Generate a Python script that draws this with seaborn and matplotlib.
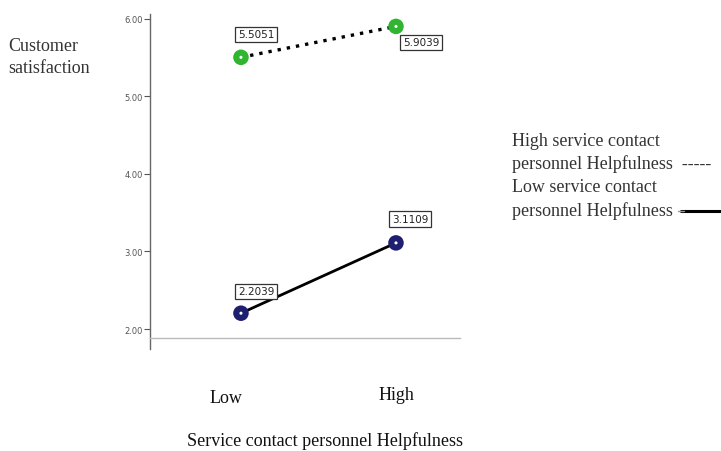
import pandas as pd
import numpy as np
import matplotlib.pyplot as plt
import seaborn as sns
from matplotlib.lines import Line2D

# data
groups = ["Low", "High"]
high_helpful = [5.5051, 5.9039]
low_helpful = [2.2039, 3.1109]
high_labels = ["5.5051", "5.9039"]
low_labels = ["2.2039", "3.1109"]
y_ticks = [2, 3, 4, 5, 6]

sns.set_theme(style="white")
plt.rcParams["font.family"] = ["Liberation Serif", "DejaVu Serif"]

df = pd.DataFrame({
    "group": groups * 2,
    "value": high_helpful + low_helpful,
    "series": ["high"] * 2 + ["low"] * 2,
})

fig = plt.figure(figsize=(7.21, 4.52), dpi=100)
ax = fig.add_axes([0.208, 0.25, 0.430, 0.717])

green = "#2fb52f"
navy = "#1f1f70"

d_high = df[df["series"] == "high"]
d_low = df[df["series"] == "low"]
sns.lineplot(data=d_high, x="group", y="value", ax=ax, color="black",
             linestyle=(0, (1, 1.8)), linewidth=2.4, sort=False)
sns.lineplot(data=d_low, x="group", y="value", ax=ax, color="black",
             linewidth=2.0, sort=False)
sns.scatterplot(data=d_high, x="group", y="value", ax=ax, color=green,
                s=125, edgecolor="none", zorder=5)
sns.scatterplot(data=d_low, x="group", y="value", ax=ax, color=navy,
                s=125, edgecolor="none", zorder=5)
sns.scatterplot(data=df, x="group", y="value", ax=ax, color="white",
                s=5, edgecolor="none", zorder=6)

# boxed value labels
box = dict(boxstyle="square,pad=0.25", fc="white", ec="#333333", lw=0.9)
offsets_high = [(15, 23), (25, -16)]
offsets_low = [(15, 22), (14, 24)]
for i, (v, t) in enumerate(zip(high_helpful, high_labels)):
    ax.annotate(t, (i, v), xytext=offsets_high[i], textcoords="offset pixels",
                ha="center", va="center", fontsize=7.5, family="DejaVu Sans",
                color="#222222", bbox=box, zorder=7)
for i, (v, t) in enumerate(zip(low_helpful, low_labels)):
    ax.annotate(t, (i, v), xytext=offsets_low[i], textcoords="offset pixels",
                ha="center", va="center", fontsize=7.5, family="DejaVu Sans",
                color="#222222", bbox=box, zorder=7)

ax.set_xlim(-0.587, 1.413)
ax.set_ylim(1.884, 6.065)
ax.set_yticks(y_ticks)
ax.set_yticklabels([f"{t:.2f}" for t in y_ticks], fontsize=6,
                   family="DejaVu Sans", color="#555555")
ax.tick_params(axis="y", left=True, length=4, width=0.8, color="#555555", pad=1)
ax.set_xticks([])
ax.set_xlabel("")
ax.set_ylabel("")

for s in ["top", "right"]:
    ax.spines[s].set_visible(False)
ax.spines["left"].set_color("#666666")
ax.spines["left"].set_linewidth(1.0)
ax.spines["left"].set_bounds(1.74, 6.065)
ax.spines["bottom"].set_color("#bbbbbb")
ax.spines["bottom"].set_linewidth(1.0)

# category labels, drawn below the axis
trans = ax.get_xaxis_transform()
ax.text(-0.1, -0.185, "Low", transform=trans, ha="center", va="center",
        fontsize=13, color="#111111")
ax.text(1.0, -0.175, "High", transform=trans, ha="center", va="center",
        fontsize=13, color="#111111")

fig.text(0.451, 0.024, "Service contact personnel Helpfulness", ha="center",
         va="center", fontsize=13, color="#111111")
fig.text(0.012, 0.897, "Customer", ha="left", va="center", fontsize=13,
         color="#333333")
fig.text(0.012, 0.849, "satisfaction", ha="left", va="center", fontsize=13,
         color="#333333")

# legend on the right
leg_lines = ["High service contact", "personnel Helpfulness  -----",
             "Low service contact", "personnel Helpfulness"]
ys = [0.686, 0.637, 0.586, 0.533]
for t, y in zip(leg_lines, ys):
    fig.text(0.710, y, t, ha="left", va="center", fontsize=13, color="#333333")
fig.add_artist(Line2D([0.945, 1.0], [0.530, 0.530], color="black",
                      linewidth=2.2, transform=fig.transFigure))
fig.add_artist(Line2D([0.940, 0.948], [0.530, 0.530], color="#999999",
                      linewidth=1.0, transform=fig.transFigure))

fig.savefig("out.png", dpi=100)
